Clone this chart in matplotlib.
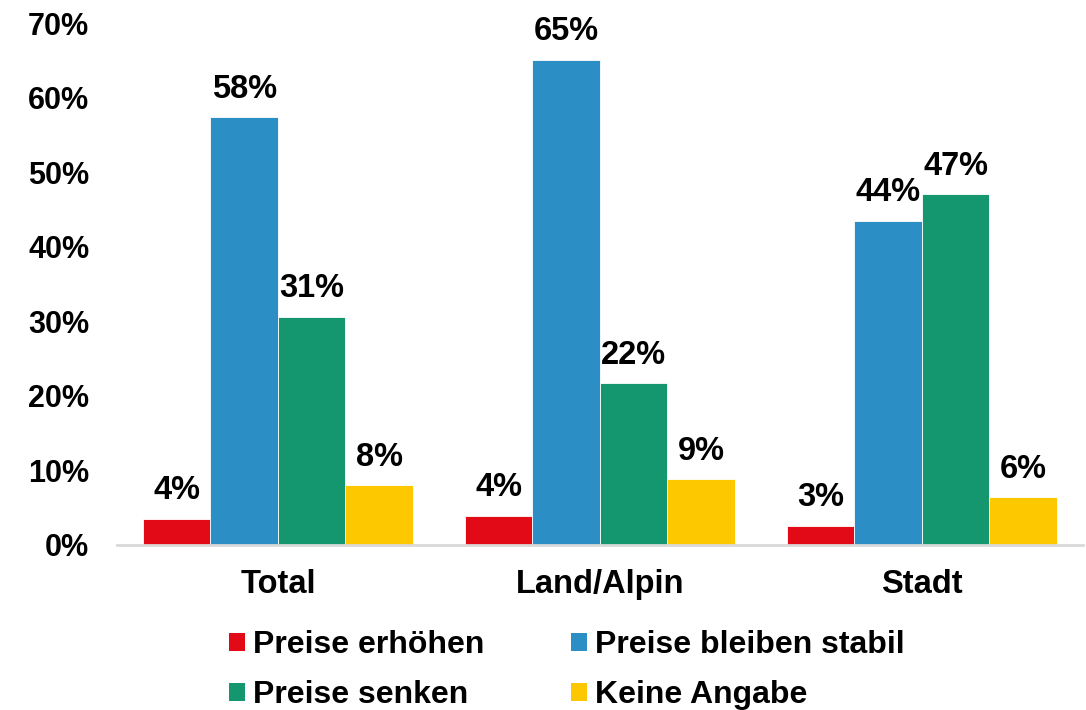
import matplotlib.pyplot as plt
import numpy as np
from matplotlib.patches import Patch

plt.rcParams['font.family'] = ['Liberation Sans', 'DejaVu Sans']
plt.rcParams['font.weight'] = 'bold'

# Daten (in %)
kategorien = ["Total", "Land/Alpin", "Stadt"]
serien = ["Preise erhöhen", "Preise bleiben stabil", "Preise senken", "Keine Angabe"]
erhoehen = [3.5, 3.9, 2.6]
stabil = [57.4, 65.1, 43.5]
senken = [30.6, 21.7, 47.1]
keine_angabe = [8.0, 8.8, 6.4]
labels_erhoehen = ["4%", "4%", "3%"]
labels_stabil = ["58%", "65%", "44%"]
labels_senken = ["31%", "22%", "47%"]
labels_keine = ["8%", "9%", "6%"]
farben = ["#E30A17", "#2B8EC4", "#14976E", "#FEC800"]

werte = [erhoehen, stabil, senken, keine_angabe]
beschriftungen = [labels_erhoehen, labels_stabil, labels_senken, labels_keine]

fig = plt.figure(figsize=(10.86, 7.1), dpi=100)
ax = fig.add_axes([0.1077, 0.2324, 0.8895, 0.7346])

x = np.arange(len(kategorien))
breite = 0.2096
fs = 23.5

for i, (w, lab, c) in enumerate(zip(werte, beschriftungen, farben)):
    pos = x + (i - 1.5) * breite
    ax.bar(pos, w, width=breite, color=c, edgecolor="white", linewidth=0.6)
    for px, v, t in zip(pos, w, lab):
        ax.annotate(t, (px, v), xytext=(0, 9), textcoords="offset points",
                    ha="center", va="bottom", fontsize=fs, fontweight="bold")

ax.set_xlim(-0.5, 2.5)
ax.set_ylim(0, 70)
ax.set_yticks(range(0, 71, 10))
ax.set_yticklabels([f"{t}%" for t in range(0, 71, 10)], fontsize=22, fontweight="bold")
ax.set_xticks(x)
ax.set_xticklabels(kategorien, fontsize=fs, fontweight="bold")
ax.tick_params(axis="y", length=0, pad=20)
ax.tick_params(axis="x", length=0, pad=17)
for s in ["left", "right", "top"]:
    ax.spines[s].set_visible(False)
ax.spines["bottom"].set_color("#D9D9D9")
ax.spines["bottom"].set_linewidth(2)

# Legende zeilenweise: ncol=2 füllt spaltenweise, daher umsortieren
reihenfolge = [0, 2, 1, 3]
handles = [Patch(facecolor=farben[i]) for i in reihenfolge]
namen = [serien[i] for i in reihenfolge]
fig.legend(handles, namen, loc="upper left", bbox_to_anchor=(229 / 1086, 1 - 630 / 710),
           ncol=2, frameon=False, prop={"weight": "bold", "size": 23},
           handlelength=0.5, handleheight=0.5, handletextpad=0.25,
           columnspacing=2.72, labelspacing=0.64, borderpad=0, borderaxespad=0)

fig.savefig("out.png", dpi=100)
